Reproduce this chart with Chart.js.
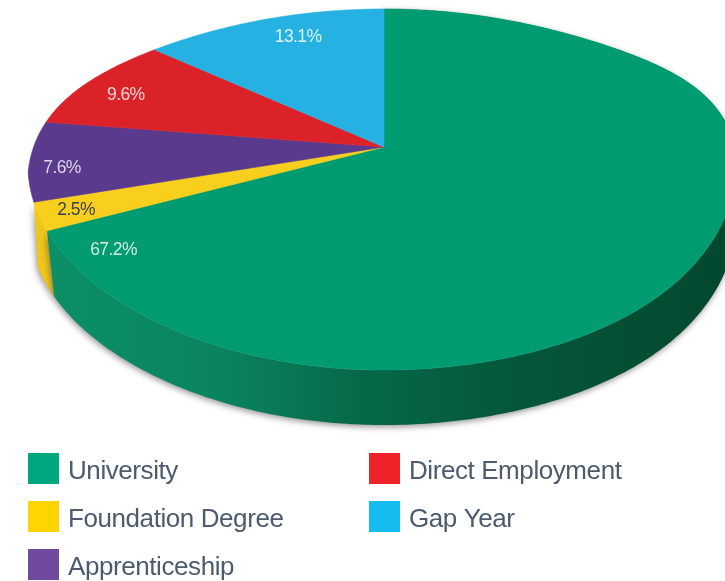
<!DOCTYPE html>
<html><head><meta charset="utf-8">
<style>html,body{margin:0;padding:0;background:#fff}canvas{display:block}</style>
<script src="https://cdn.jsdelivr.net/npm/chart.js@4"></script>
</head><body><canvas id="c" width="725" height="581"></canvas>
<script>
const categories = ["University","Foundation Degree","Apprenticeship","Direct Employment","Gap Year"];
const shares = [67.2,2.5,7.6,9.6,13.1];
const shareLabels = ["67.2%","2.5%","7.6%","9.6%","13.1%"];
const faceColors = ["#009B70","#F8CF1C","#5A3A8C","#DC2229","#25B2E3"];
const legendColors = ["#00A67E","#FFD400","#6F4A9E","#EE2329","#14BCF0"];
const labelColors = ["#CDEBE0","#3A3F55","#DDD6EA","#F6D6D6","#DDF3FB"];
const labelAlong = [0.962,0.66,0.436,0.41,0.555];
const labelRadius = [0.866,0.89,0.918,0.876,0.824];
const wallSlices = [1,0];
const wallYellow = "#EFC61A";

// perspective view of the unit disc
const view = {cx:384, cy:147, A:344, B:170.5, k:-0.2355, depth:55, spin:0.04, lift:20,
              narrowL:0.08, narrowR:0.05, bulge:8, baseSkew:0.06};
function project(a, r){
  const X = r*Math.cos(a), Y = r*Math.sin(a), w = 1 + view.k*Y;
  return {x:view.cx + view.A*X/w, y:view.cy + view.B*Y/w};
}
function rimPoint(a){
  // the picture's disc is not a perfect projected circle: small corrections on the rim
  const t = a + view.spin*Math.sin(2*(a+Math.PI/2));
  const X = Math.cos(t), Y = Math.sin(t), w = 1 + view.k*Y;
  const left = X < 0;
  const narrow = (left ? view.narrowL : view.narrowR)*Math.max(0,Y-0.15);
  const phi = Math.atan2(-X, -Y);          // 0 at the top, growing towards the left
  const bump = left ? view.bulge*Math.exp(-Math.pow((phi-1.31)/0.436,2)) : 0;
  return {
    x:view.cx + view.A*X/w*(1 - narrow) - bump,
    y:view.cy + view.B*Y/w - (left ? 0 : view.lift*Math.pow(X,6)) - bump*0.4
  };
}
function rim(a0,a1){
  const n = Math.max(2,Math.ceil(Math.abs(a1-a0)/0.01)), pts=[];
  for(let i=0;i<=n;i++) pts.push(rimPoint(a0+(a1-a0)*i/n));
  return pts;
}
const pie3d = {
  id:'pie3d',
  beforeDatasetsDraw(chart){
    const ctx = chart.ctx, arcs = chart.getDatasetMeta(0).data;
    const wallGrad = ctx.createLinearGradient(50,0,725,0);
    wallGrad.addColorStop(0,"#0B8F66");
    wallGrad.addColorStop(0.25,"#0A8460");
    wallGrad.addColorStop(0.45,"#07694A");
    wallGrad.addColorStop(0.7,"#04563A");
    wallGrad.addColorStop(1,"#03482F");
    ctx.save();
    wallSlices.forEach(i=>{
      const arc = arcs[i];
      const pts = rim(arc.startAngle,arc.endAngle);
      const base = rim(arc.startAngle-view.baseSkew,arc.endAngle-view.baseSkew);
      ctx.save();
      ctx.shadowColor = "rgba(60,60,60,0.55)";
      ctx.shadowBlur = 6; ctx.shadowOffsetY = 2; ctx.shadowOffsetX=-1;
      ctx.beginPath();
      pts.forEach((p,j)=> j?ctx.lineTo(p.x,p.y):ctx.moveTo(p.x,p.y));
      for(let j=base.length-1;j>=0;j--) ctx.lineTo(base[j].x,base[j].y+view.depth);
      ctx.closePath();
      ctx.fillStyle = i===0 ? wallGrad : wallYellow;
      ctx.fill();
      ctx.restore();
    });
    // top face
    arcs.forEach((arc,i)=>{
      ctx.beginPath();
      ctx.moveTo(view.cx,view.cy);
      rim(arc.startAngle,arc.endAngle).forEach(p=>ctx.lineTo(p.x,p.y));
      ctx.closePath();
      ctx.fillStyle = faceColors[i];
      ctx.fill();
      ctx.strokeStyle = faceColors[i];
      ctx.lineWidth = 0.6;
      ctx.stroke();
    });
    // value labels
    ctx.font = "17.5px 'Liberation Sans'";
    ctx.textAlign = "center"; ctx.textBaseline = "middle";
    ctx.letterSpacing = "-0.6px";
    arcs.forEach((arc,i)=>{
      const a = arc.startAngle + (arc.endAngle-arc.startAngle)*labelAlong[i];
      const p = project(a,labelRadius[i]);
      ctx.fillStyle = labelColors[i];
      ctx.fillText(shareLabels[i],p.x,p.y+1);
    });
    ctx.restore();
    return false;
  },
  afterDraw(chart){
    const ctx = chart.ctx;
    const xs=[28,369], ys=[453,501,549], perCol=3, size=31;
    ctx.save();
    ctx.font = "26px 'Liberation Sans'";
    ctx.textAlign="left"; ctx.textBaseline="alphabetic";
    ctx.letterSpacing = "-0.42px";
    categories.forEach((name,i)=>{
      const col=Math.floor(i/perCol), row=i%perCol;
      ctx.fillStyle=legendColors[i];
      ctx.fillRect(xs[col],ys[row],size,size);
      ctx.fillStyle="#4C5B6E";
      ctx.fillText(name,xs[col]+40,ys[row]+26);
    });
    ctx.restore();
  }
};
new Chart(document.getElementById('c'),{
  type:'pie',
  data:{labels:categories,datasets:[{data:shares,backgroundColor:faceColors,borderWidth:0}]},
  options:{responsive:false,animation:false,
    plugins:{legend:{display:false},tooltip:{enabled:false}}},
  plugins:[pie3d]
});
</script></body></html>
